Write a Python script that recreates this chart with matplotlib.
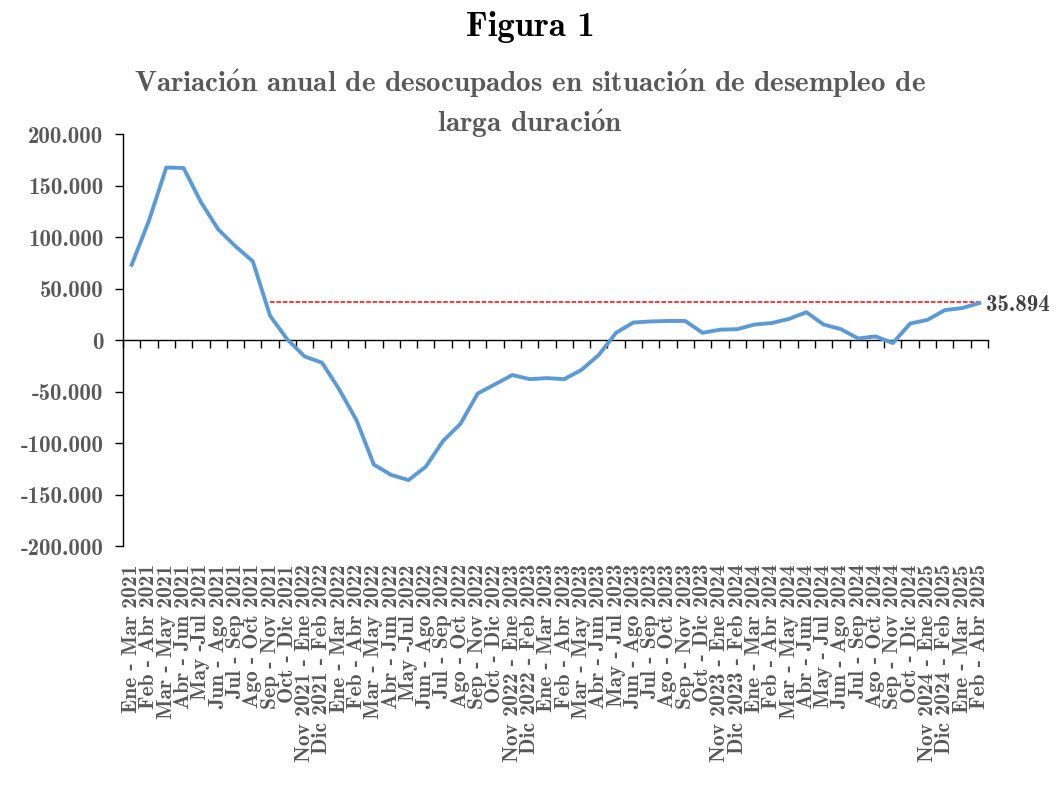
import matplotlib
matplotlib.use("Agg")
import matplotlib.pyplot as plt
from matplotlib.ticker import FuncFormatter

# Computer Modern bold shipped with matplotlib
FONT = ["cmb10", "DejaVu Serif"]
plt.rcParams["font.family"] = FONT
plt.rcParams["mathtext.fontset"] = "cm"
plt.rcParams["axes.formatter.use_mathtext"] = True

periods = [
    "Ene - Mar 2021", "Feb - Abr 2021", "Mar - May 2021", "Abr - Jun 2021", "May -Jul 2021",
    "Jun - Ago 2021", "Jul - Sep 2021", "Ago - Oct 2021", "Sep - Nov 2021", "Oct - Dic 2021",
    "Nov 2021 - Ene 2022", "Dic 2021 - Feb 2022",
    "Ene - Mar 2022", "Feb - Abr 2022", "Mar - May 2022", "Abr - Jun 2022", "May -Jul 2022",
    "Jun - Ago 2022", "Jul - Sep 2022", "Ago - Oct 2022", "Sep - Nov 2022", "Oct - Dic 2022",
    "Nov 2022 - Ene 2023", "Dic 2022 - Feb 2023",
    "Ene - Mar 2023", "Feb - Abr 2023", "Mar - May 2023", "Abr - Jun 2023", "May - Jul 2023",
    "Jun - Ago 2023", "Jul - Sep 2023", "Ago - Oct 2023", "Sep - Nov 2023", "Oct - Dic 2023",
    "Nov 2023 - Ene 2024", "Dic 2023 - Feb 2024",
    "Ene - Mar 2024", "Feb - Abr 2024", "Mar - May 2024", "Abr - Jun 2024", "May - Jul 2024",
    "Jun - Ago 2024", "Jul - Sep 2024", "Ago - Oct 2024", "Sep - Nov 2024", "Oct - Dic 2024",
    "Nov 2024 - Ene 2025", "Dic 2024 - Feb 2025",
    "Ene - Mar 2025", "Feb - Abr 2025",
]
desocupados_var = [
    73000, 116000, 167500, 167000, 134000, 107500, 91000, 76500, 23500, 500,
    -16000, -22000, -48000, -78000, -121000, -131000, -136000, -123000, -98000, -81500,
    -52000, -43000, -34000, -38000, -37000, -38000, -29000, -14500, 7000, 17000,
    18000, 18500, 18500, 7000, 10000, 10500, 15000, 16500, 20500, 27000,
    15000, 10500, 1500, 3500, -3000, 16000, 19500, 29000, 31000, 35894,
]
ref_level = 37200     # línea roja punteada
ref_start = 8         # arranca en "Sep - Nov 2021"

GRAY = "#595959"
fmt = lambda v: f"{int(v):,}".replace(",", ".")
O_ACUTE = r"$\mathbf{\acute{o}}$"

fig = plt.figure(figsize=(10.56, 7.92), dpi=100)
ax = fig.add_axes([0.1165, 0.3106, 0.8191, 0.5202])

x = list(range(len(periods)))
ax.plot(x, desocupados_var, color="#5B9BD5", lw=2.8, solid_joinstyle="round", zorder=3)
ax.hlines(ref_level, ref_start, len(periods) - 1, colors="red", linestyles=(0, (3, 1.2)), lw=1.1, zorder=2)
ax.annotate(fmt(desocupados_var[-1]), xy=(x[-1], desocupados_var[-1]), xytext=(5, -1.5),
            textcoords="offset points", va="center", ha="left", fontsize=16.5, color="#404040")

ax.set_xlim(-0.5, len(periods) - 0.5)
ax.set_ylim(-200000, 200000)
ax.set_yticks(range(-200000, 200001, 50000))
ax.yaxis.set_major_formatter(FuncFormatter(lambda v, p: fmt(v)))
ax.tick_params(axis="y", length=6, width=1, color="black", pad=8, labelsize=16.5, labelcolor=GRAY)

for s in ["top", "right"]:
    ax.spines[s].set_visible(False)
ax.spines["bottom"].set_position(("data", 0))
ax.spines["bottom"].set_linewidth(1)
ax.spines["left"].set_linewidth(1)
ax.set_xticks([])
ax.set_xticks([i - 0.5 for i in range(len(periods) + 1)], minor=True)
ax.tick_params(axis="x", which="minor", length=6, width=1, color="black", direction="out")

# etiquetas de categorías al pie del gráfico
sec = ax.secondary_xaxis("bottom")
sec.set_xticks(x, labels=periods)
sec.spines["bottom"].set_visible(False)
sec.tick_params(axis="x", length=0, pad=13, labelsize=15.5, labelcolor=GRAY, rotation=90)

fig.text(0.502, 1 - 27 / 792, "Figura 1", ha="center", va="center", fontsize=25, color="black")
fig.text(0.502, 1 - 104 / 792,
         f"Variaci{O_ACUTE}n anual de desocupados en situaci{O_ACUTE}n de desempleo de\nlarga duraci{O_ACUTE}n",
         ha="center", va="center", fontsize=21, color=GRAY, linespacing=1.3)

fig.savefig("out.png", dpi=100)
